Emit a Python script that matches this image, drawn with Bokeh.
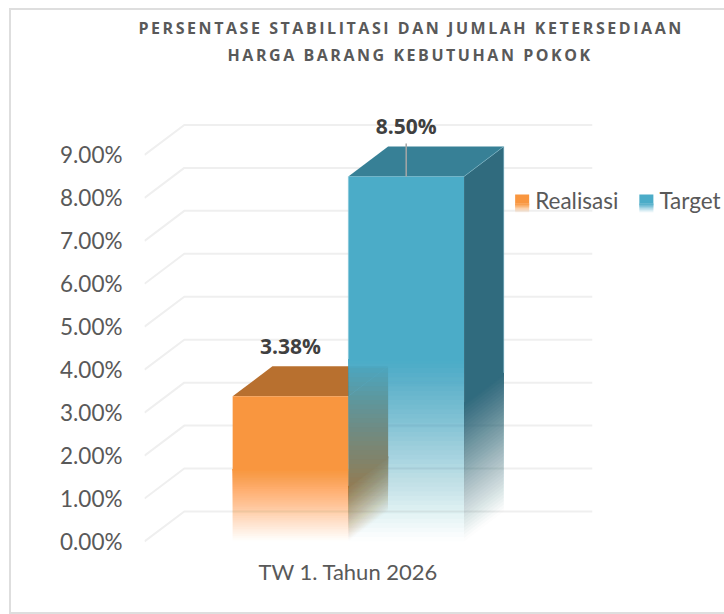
from bokeh.plotting import figure
from bokeh.models import FixedTicker, PrintfTickFormatter, Range1d
from bokeh.layouts import column
from bokeh.core.properties import value
from bokeh.embed import file_html
from bokeh.resources import INLINE

categories = ["TW 1. Tahun 2026"]
series_names = ["Realisasi", "Target"]
realisasi = [3.38]
target = [8.50]
y_ticks = [0, 1, 2, 3, 4, 5, 6, 7, 8, 9]
title_lines = ["PERSENTASE STABILITASI DAN JUMLAH KETERSEDIAAN", "HARGA BARANG KEBUTUHAN POKOK"]

TEXT = "#595959"
DARK = "#404040"
GRID = "#efefef"
BORDER = "2px solid #dedede"

PX_X = 115.5
PX_Y = 42.95
DX = 39.7 / PX_X
DY = 30.0 / PX_Y
X_LEFT = (145 - 233) / PX_X
X_RIGHT = (724 - 233) / PX_X
X_BACK_END = (592 - 233) / PX_X
OVERLAP = 1.5 / PX_Y


def sx(px):
    return (px - 233) / PX_X


def sy(py):
    return (541 - py) / PX_Y


head = figure(width=713, height=62, x_range=Range1d(0, 713), y_range=Range1d(62, 0),
              toolbar_location=None, output_backend="svg", min_border=0,
              x_axis_type=None, y_axis_type=None, outline_line_color=None, frame_align=False)
head.grid.visible = False
head.styles = {"letter-spacing": "2.55px"}
head.text(x=[127, 216], y=[17.5, 44.5], text=title_lines, text_align="left", text_baseline="middle",
          text_color=TEXT, text_font=value("Open Sans"), text_font_style="bold", text_font_size="16px")

p = figure(width=713, height=540, x_range=Range1d(X_LEFT, X_RIGHT), y_range=Range1d(sy(545), sy(72)),
           toolbar_location=None, output_backend="svg", min_border_left=133, min_border_right=0,
           min_border_top=0, min_border_bottom=67, outline_line_color=None, frame_align=False)
p.grid.visible = False

ax = p.yaxis[0]
ax.ticker = FixedTicker(ticks=y_ticks)
ax.formatter = PrintfTickFormatter(format="%.2f%%")
ax.axis_line_color = None
ax.major_tick_line_color = None
ax.minor_tick_line_color = None
ax.major_label_standoff = 16
ax.major_label_text_font = "Lato"
ax.major_label_text_font_size = "22.5px"
ax.major_label_text_color = TEXT

bx = p.xaxis[0]
bx.ticker = FixedTicker(ticks=[1])
bx.major_label_overrides = {1: categories[0]}
bx.axis_line_color = None
bx.major_tick_line_color = None
bx.minor_tick_line_color = None
bx.major_label_standoff = 6
bx.major_label_text_font = "Lato"
bx.major_label_text_font_size = "22px"
bx.major_label_text_color = TEXT

for t in y_ticks:
    p.line([X_LEFT, X_LEFT + DX, X_BACK_END], [t, t + DY, t + DY], line_color=GRID, line_width=2)


def fade(shape, color, hi, lo, steps=40):
    """Nested translucent layers, hi -> lo, giving opacity 1 at hi and 0 at lo without seams."""
    prev = 0.0
    for k in range(steps):
        o = (k + 0.5) / steps
        a = 1 - (1 - o) / (1 - prev)
        prev = o
        xs, ys = shape(hi, lo + (hi - lo) * k / steps)
        p.patch(xs, ys, fill_color=color, fill_alpha=a, line_color=None)


def front_face(x0, v, color):
    def shape(a, b):
        return [x0, x0 + 1, x0 + 1, x0], [a, a, b, b]
    fade(shape, color, v / 2, 0)
    xs, ys = shape(v, v / 2 - OVERLAP)
    p.patch(xs, ys, fill_color=color, line_color=None)


def side_face(x0, v, color):
    x1 = x0 + 1

    def shape(a, b):
        return [x1, x1 + DX, x1 + DX, x1], [a, a + DY, b + DY, b]
    knee = v * 0.38
    fade(shape, color, knee, 0, steps=40)
    xs, ys = shape(v, knee - OVERLAP)
    p.patch(xs, ys, fill_color=color, line_color=None)


def top_face(x0, v, color):
    p.patch([x0, x0 + DX, x0 + 1 + DX, x0 + 1], [v, v + DY, v + DY, v], fill_color=color, line_color=None)


ORANGE, ORANGE_DARK = "#F9963F", "#B8702F"
BLUE, BLUE_TOP, BLUE_SIDE = "#4BACC8", "#378096", "#306B7E"
EDGE = "#8CC9DB"

# orange first: its side face shows through the fading blue front
top_face(0, realisasi[0], ORANGE_DARK)
side_face(0, realisasi[0], ORANGE_DARK)
front_face(0, realisasi[0], ORANGE)
top_face(1, target[0], BLUE_TOP)
front_face(1, target[0], BLUE)
side_face(1, target[0], BLUE_SIDE)

# thin lighter edges of the blue box
v = target[0]
p.line([1, 1], [v / 2, v], line_color=EDGE, line_width=1, line_alpha=0.6)
p.line([2 + DX, 2 + DX, 2], [v * 0.38 + DY, v + DY, v], line_color=EDGE, line_width=1, line_alpha=0.45)

# data labels
p.segment(x0=[1.5], x1=[1.5], y0=[target[0]], y1=[target[0] + 33 / PX_Y], line_color="#a6a6a6", line_width=1.5)
p.text(x=[0.5, 1.5], y=[realisasi[0] + 1.18, target[0] + 1.18],
       text=[f"{realisasi[0]:.2f}%", f"{target[0]:.2f}%"], text_align="center", text_baseline="middle",
       text_color=DARK, text_font=value("Open Sans"), text_font_style="bold", text_font_size="21px")

# legend
for lx, col, name in [(515, ORANGE, series_names[0]), (639, BLUE, series_names[1])]:
    def swatch(a, b, lx=lx):
        return [sx(lx), sx(lx + 14), sx(lx + 14), sx(lx)], [a, a, b, b]
    fade(swatch, col, sy(203), sy(212), steps=8)
    xs, ys = swatch(sy(194), sy(203))
    p.patch(xs, ys, fill_color=col, line_color=None)
    p.text(x=[sx(lx + 20)], y=[sy(199.5)], text=[name], text_align="left", text_baseline="middle",
           text_color=TEXT, text_font=value("Lato"), text_font_size="22.5px")

page = column(head, p, spacing=0)
page.styles = {"border-top": BORDER, "border-left": BORDER, "border-bottom": BORDER,
               "margin-left": "9px", "margin-top": "8px"}
open("out.html", "w").write(file_html(page, INLINE))
